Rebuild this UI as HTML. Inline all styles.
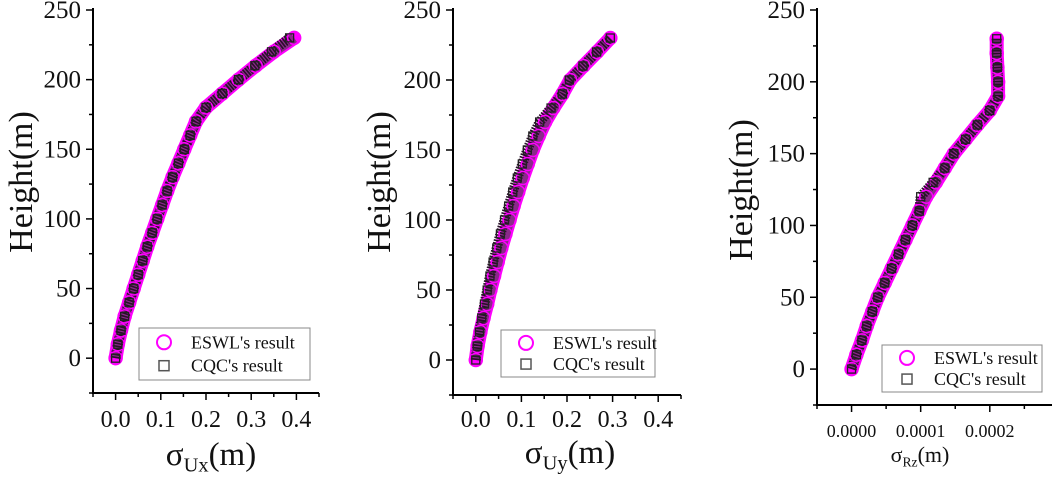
<!DOCTYPE html>
<html><head><meta charset="utf-8"><style>
html,body{margin:0;padding:0;background:#fff;width:1052px;height:477px;overflow:hidden}
svg text{font-family:"Liberation Serif",serif;fill:#111}
</style></head><body>
<svg id="chart" width="1052" height="477" viewBox="0 0 1052 477" xmlns="http://www.w3.org/2000/svg"></svg>
<script>
const heights = [0,10,20,30,40,50,60,70,80,90,100,110,120,130,140,150,160,170,180,190,200,210,220,230];
const uxESWL = [0,0.005,0.012,0.02,0.03,0.04,0.05,0.06,0.07,0.081,0.092,0.103,0.114,0.126,0.139,0.152,0.165,0.178,0.2,0.236,0.272,0.31,0.35,0.395];
const uxCQC  = [0,0.005,0.012,0.02,0.03,0.04,0.05,0.06,0.07,0.081,0.092,0.103,0.114,0.126,0.139,0.152,0.165,0.178,0.2,0.236,0.272,0.308,0.345,0.385];
const uyESWL = [0,0.004,0.01,0.017,0.025,0.032,0.04,0.048,0.056,0.065,0.074,0.083,0.093,0.103,0.114,0.125,0.138,0.152,0.17,0.19,0.207,0.236,0.266,0.295];
const uyCQC  = [0,0.003,0.008,0.013,0.019,0.025,0.031,0.038,0.046,0.054,0.063,0.072,0.081,0.091,0.102,0.113,0.125,0.14,0.165,0.19,0.205,0.235,0.265,0.295];
const rzESWL = [0,0.000007,0.000015,0.000022,0.00003,0.000038,0.000048,0.000058,0.000068,0.000078,0.000088,0.000098,0.000108,0.000122,0.000135,0.000148,0.000165,0.000182,0.0002,0.000212,0.000212,0.000211,0.00021,0.00021];
const rzCQC  = [0,0.000007,0.000015,0.000022,0.00003,0.000038,0.000048,0.000058,0.000068,0.000078,0.000088,0.000098,0.0001,0.000118,0.000135,0.000148,0.000165,0.000182,0.0002,0.000212,0.000212,0.000211,0.00021,0.00021];
const yTicks = [0,50,100,150,200,250];
const xTicksU = ["0.0","0.1","0.2","0.3","0.4"];
const xTicksR = ["0.0000","0.0001","0.0002"];

const NS="http://www.w3.org/2000/svg";
const svg=document.getElementById('chart');
function mk(tag,attrs,parent){const e=document.createElementNS(NS,tag);for(const k in attrs)e.setAttribute(k,attrs[k]);(parent||svg).appendChild(e);return e;}

function panel(cfg){
  const g=mk('g',{});
  
  
  const X=v=>cfg.x0+(v-cfg.xmin)/(cfg.xmax-cfg.xmin)*(cfg.x1-cfg.x0);
  const Y=v=>cfg.yb+(v-(-25))/(275)*(cfg.yt-cfg.yb);
  const ax=mk('path',{d:`M${cfg.x0},${cfg.yt-2} V${cfg.yb} H${cfg.x1}`,fill:'none',stroke:'#000','stroke-width':2},g);
  
  for(let v=-25;v<=250;v+=25){
    const major=yTicks.includes(v);
    mk('line',{x1:cfg.x0,x2:cfg.x0-(major?7:4),y1:Y(v),y2:Y(v),stroke:'#000','stroke-width':1.5},g);
  }
  yTicks.forEach(v=>{
    const t=mk('text',{x:cfg.x0-12,y:Y(v)+8,'text-anchor':'end','font-size':cfg.yfs},g);
    t.textContent=v;
    
  });
  const nx=Math.round((cfg.xmax-cfg.xmin)/cfg.minor);
  for(let i=0;i<=nx;i++){
    const v=cfg.xmin+i*cfg.minor;
    const major=i%2===1;
    mk('line',{x1:X(v),x2:X(v),y1:cfg.yb,y2:cfg.yb+(major?7:4),stroke:'#000','stroke-width':1.5},g);
  }
  cfg.xlabels.forEach((lab,i)=>{
    const t=mk('text',{x:X(parseFloat(lab)),y:cfg.xly,'text-anchor':'middle','font-size':cfg.xfs},g);
    t.textContent=lab;
    
  });
  const yt=mk('text',{x:0,y:0,'text-anchor':'middle','font-size':34,transform:`translate(${cfg.ytx},${cfg.yty}) rotate(-90)`},g);
  yt.textContent='Height(m)';
  
  const xt=mk('text',{x:cfg.xtx,y:cfg.xty,'text-anchor':'middle','font-size':cfg.xtfs},g);
  xt.innerHTML=`σ<tspan font-size="${cfg.xtfs*0.62}" dy="${cfg.xtfs*0.2}">${cfg.sub}</tspan><tspan dy="${-cfg.xtfs*0.2}">(m)</tspan>`;
  
  const pts=a=>a.map((v,i)=>`${X(v)},${Y(heights[i])}`).join(' ');
  const band=mk('polyline',{points:pts(cfg.e),fill:'none',stroke:'#ff00ff','stroke-width':14,'stroke-linejoin':'round','stroke-linecap':'round'},g);
  
  mk('polyline',{points:pts(cfg.e),fill:'none',stroke:'#8a2a8a','stroke-width':10,'stroke-linejoin':'round'},g);
  const cb=mk('polyline',{points:pts(cfg.c),fill:'none',stroke:'#2a0e2a','stroke-width':10,'stroke-linejoin':'round','stroke-dasharray':'1.6 1.2'},g);
  
  cfg.e.forEach((v,i)=>{
    const c=mk('circle',{cx:X(v),cy:Y(heights[i]),r:6.5,fill:'none',stroke:'#ff00ff','stroke-width':1.5},g);
    
  });
  cfg.c.forEach((v,i)=>{
    const r=mk('rect',{x:X(v)-4,y:Y(heights[i])-4,width:8,height:8,fill:'none',stroke:'#222','stroke-width':1.3},g);
    
  });
  const L=cfg.leg;
  const lg=mk('g',{},g);
  
  mk('rect',{x:L[0],y:L[1],width:L[2],height:L[3],fill:'#fff',stroke:'#888','stroke-width':1},lg);
  const rowH=L[3]/2;
  mk('circle',{cx:L[0]+25,cy:L[1]+rowH*0.55,r:7,fill:'none',stroke:'#ff00ff','stroke-width':2},lg);
  mk('rect',{x:L[0]+20,y:L[1]+rowH*1.45-5,width:10,height:10,fill:'none',stroke:'#555','stroke-width':1.5},lg);
  const t1=mk('text',{x:L[0]+52,y:L[1]+rowH*0.55+6,'font-size':18},lg);t1.textContent="ESWL's result";
  
  const t2=mk('text',{x:L[0]+52,y:L[1]+rowH*1.45+6,'font-size':18},lg);t2.textContent="CQC's result";
  
}

panel({name:'panel-ux',x0:93,x1:319,xmin:-0.05,xmax:0.45,minor:0.05,yt:10,yb:393,e:uxESWL,c:uxCQC,
  xlabels:xTicksU,xly:427,xfs:24,yfs:25,ytx:32,yty:182,xtx:211,xty:465,xtfs:33,sub:'Ux',leg:[139,328,171,52]});
panel({name:'panel-uy',x0:453,x1:681,xmin:-0.05,xmax:0.45,minor:0.05,yt:10,yb:395,e:uyESWL,c:uyCQC,
  xlabels:xTicksU,xly:427,xfs:24,yfs:25,ytx:390,yty:182,xtx:570,xty:463,xtfs:33,sub:'Uy',leg:[501,330,154,47]});
panel({name:'panel-rz',x0:817,x1:1052,xmin:-0.00005,xmax:0.00029,minor:0.00005,yt:10,yb:405,e:rzESWL,c:rzCQC,
  xlabels:xTicksR,xly:437,xfs:18,yfs:25,ytx:752,yty:190,xtx:920,xty:462,xtfs:22,sub:'Rz',leg:[882,345,160,47]});
</script>
</body></html>
